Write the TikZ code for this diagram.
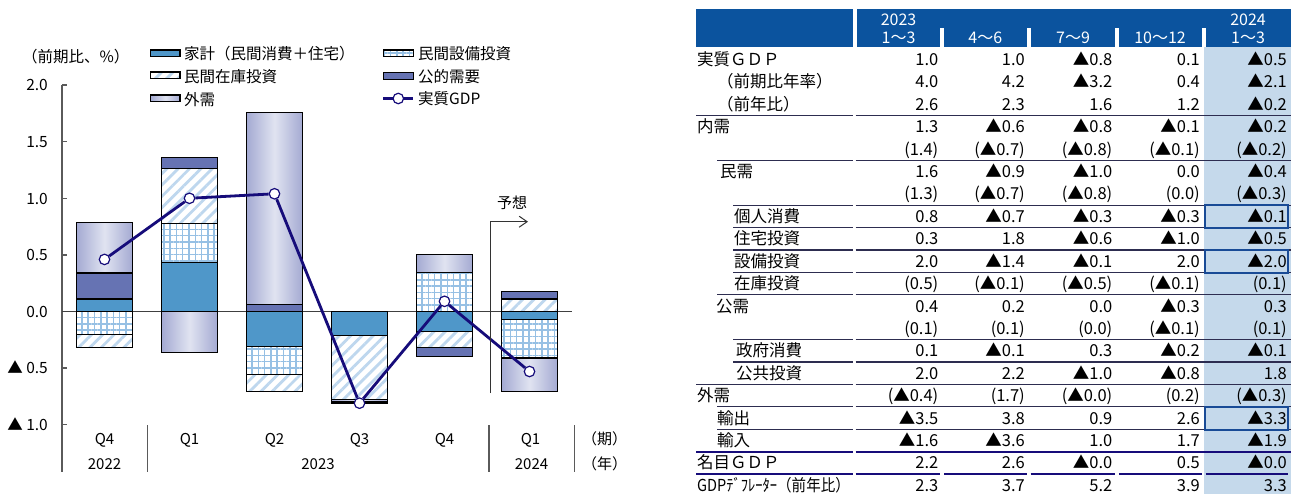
\documentclass[tikz,border=0pt]{standalone}
\usepackage{fontspec}
\setmainfont{Noto Sans CJK JP}
\usepackage{graphicx}
\usetikzlibrary{patterns.meta,arrows.meta}

\definecolor{hhblue}{RGB}{79,151,201}
\definecolor{pubblue}{RGB}{102,115,179}
\definecolor{gridblue}{RGB}{150,192,228}
\definecolor{hatchblue}{RGB}{190,215,238}
\definecolor{extedge}{RGB}{164,170,210}
\definecolor{extmid}{RGB}{224,227,241}
\definecolor{gdpnavy}{RGB}{22,12,122}
\definecolor{headblue}{RGB}{11,83,158}
\definecolor{coltint}{RGB}{197,217,235}
\definecolor{boxblue}{RGB}{25,75,150}
\definecolor{rulecol}{RGB}{45,45,80}
\definecolor{axisgray}{RGB}{90,90,90}

\tikzset{
  seg/.style={draw=black, line width=1.2pt},
  hh/.style={seg, fill=hhblue},
  pub/.style={seg, fill=pubblue},
  capex/.style={seg, pattern={Hatch[angle=0,distance=6.3pt,line width=1.5pt]}, pattern color=gridblue},
  stock/.style={seg, pattern={Lines[angle=45,distance=8pt,line width=2.8pt]}, pattern color=hatchblue},
  ext/.style={seg, left color=extedge, right color=extedge, middle color=extmid},
  gdp/.style={draw=gdpnavy, line width=2.8pt},
  gdpdot/.style={circle, draw=gdpnavy, fill=white, line width=1.2pt, inner sep=0pt, minimum size=10.5pt},
  axisline/.style={draw=axisgray, line width=1.3pt},
  zeroline/.style={draw=black!75, line width=1pt},
  fcline/.style={draw=black!80, line width=1pt},
  ylab/.style={anchor=east, inner sep=0pt, text height=11.7pt, text depth=0pt, font=\fontsize{15.5}{18}\selectfont},
  catlab/.style={inner sep=0pt, text height=11.7pt, text depth=0pt, font=\fontsize{15}{18}\selectfont},
  legtxt/.style={anchor=west, inner sep=0pt, font=\fontsize{15.5}{18}\selectfont},
  lbl/.style={anchor=west, inner sep=0pt, text height=12pt, text depth=0pt, font=\fontsize{16.5}{19}\selectfont},
  val/.style={anchor=east, inner sep=0pt, text height=12pt, text depth=0pt, font=\fontsize{16.5}{19}\selectfont},
  head/.style={text=white, inner sep=0pt, text height=11.5pt, text depth=0pt, font=\fontsize{16}{18}\selectfont},
  tabrule/.style={draw=rulecol, line width=1.1pt},
  navyline/.style={draw=gdpnavy, line width=2pt},
  hilite/.style={draw=boxblue, line width=2pt}
}

\begin{document}
\begin{tikzpicture}[x=1pt,y=-1pt]

\useasboundingbox[fill=white] (0,0) rectangle (1295,494); % page


%%%%%%%%%% left chart %%%%%%%%%%

\node[legtxt] (unit) at(22,56.7){（前期比、\%）}; % unit of y axis

%legend, left column
\draw[hh] (150.7,50) rectangle (180,56.7);
\node[legtxt] (lhh) at(184,54){家計（民間消費＋住宅）};
\draw[stock] (150.7,72) rectangle (180,78.7);
\node[legtxt] (lstock) at(184,76.7){民間在庫投資};
\draw[ext] (150.7,95) rectangle (180,101.7);
\node[legtxt] (lext) at(184,99.3){外需};

%legend, right column
\draw[capex] (383.3,50) rectangle (413.3,56.7);
\node[legtxt] (lcapex) at(418,53.5){民間設備投資};
\draw[pub] (383.3,72.7) rectangle (413.3,79.3);
\node[legtxt] (lpub) at(418,76.7){公的需要};
\coordinate (lg0) at(383.3,98.5);
\coordinate (lg1) at(413.3,98.5);
\draw[gdp] (lg0)--(lg1); % legend line
\node[gdpdot] (lgdot) at(398.3,98.5){};
\node[legtxt] (lgdp) at(418,99){実質GDP};

%y axis and ticks
\draw[axisline] (62,85.1)--(62,472); % axis, runs down into the category box
\draw[axisline] (62,85.1)--(67,85.1);
\draw[axisline] (62,141.7)--(67,141.7);
\draw[axisline] (62,198.3)--(67,198.3);
\draw[axisline] (62,254.9)--(67,254.9);
\draw[axisline] (62,311.5)--(67,311.5);
\draw[axisline] (62,368.1)--(67,368.1);
\draw[axisline] (62,424.7)--(67,424.7);

\node[ylab] (y1) at(48,85.1){2.0};
\node[ylab] (y2) at(48,141.7){1.5};
\node[ylab] (y3) at(48,198.3){1.0};
\node[ylab] (y4) at(48,254.9){0.5};
\node[ylab] (y5) at(48,311.5){0.0};
\node[ylab] (y6) at(48,368.1){▲ 0.5};
\node[ylab] (y7) at(48,424.7){▲ 1.0};

%bars, in data units (0 at y=311.5)
\begin{scope}[shift={(0,311.5)},y=113.2pt]

\draw[zeroline] (62,0)--(572,0); % zero line

%Q4 2022
\draw[hh] (76.5,0) rectangle (132.5,0.11);
\draw[pub] (76.5,0.11) rectangle (132.5,0.34);
\draw[ext] (76.5,0.34) rectangle (132.5,0.785);
\draw[capex] (76.5,0) rectangle (132.5,-0.205);
\draw[stock] (76.5,-0.205) rectangle (132.5,-0.32);

%Q1 2023
\draw[hh] (161.5,0) rectangle (217.5,0.43);
\draw[capex] (161.5,0.43) rectangle (217.5,0.78);
\draw[stock] (161.5,0.78) rectangle (217.5,1.26);
\draw[pub] (161.5,1.26) rectangle (217.5,1.36);
\draw[ext] (161.5,0) rectangle (217.5,-0.36);

%Q2 2023
\draw[pub] (246.5,0) rectangle (302.5,0.06);
\draw[ext] (246.5,0.06) rectangle (302.5,1.76);
\draw[hh] (246.5,0) rectangle (302.5,-0.31);
\draw[capex] (246.5,-0.31) rectangle (302.5,-0.56);
\draw[stock] (246.5,-0.56) rectangle (302.5,-0.71);

%Q3 2023
\draw[hh] (331.5,0) rectangle (387.5,-0.21);
\draw[stock] (331.5,-0.21) rectangle (387.5,-0.775);
\draw[ext] (331.5,-0.775) rectangle (387.5,-0.80);
\draw[pub] (331.5,-0.80) rectangle (387.5,-0.815);

%Q4 2023
\draw[capex] (416.5,0) rectangle (472.5,0.345);
\draw[ext] (416.5,0.345) rectangle (472.5,0.50);
\draw[hh] (416.5,0) rectangle (472.5,-0.18);
\draw[stock] (416.5,-0.18) rectangle (472.5,-0.32);
\draw[pub] (416.5,-0.32) rectangle (472.5,-0.40);

%Q1 2024 (forecast)
\draw[stock] (501.5,0) rectangle (557.5,0.11);
\draw[pub] (501.5,0.11) rectangle (557.5,0.18);
\draw[hh] (501.5,0) rectangle (557.5,-0.07);
\draw[capex] (501.5,-0.07) rectangle (557.5,-0.41);
\draw[ext] (501.5,-0.41) rectangle (557.5,-0.71);

%real GDP line
\node[gdpdot] (g1) at(104.5,0.46){};
\node[gdpdot] (g2) at(189.5,1.0){};
\node[gdpdot] (g3) at(274.5,1.04){};
\node[gdpdot] (g4) at(359.5,-0.81){};
\node[gdpdot] (g5) at(444.5,0.09){};
\node[gdpdot] (g6) at(529.5,-0.53){};
\draw[gdp] (g1)--(g2)--(g3)--(g4)--(g5)--(g6);

\end{scope}

%forecast marker
\coordinate (fclow) at(490,393);
\coordinate (fctop) at(490,221.7);
\coordinate (fcend) at(528,221.7);
\draw[fcline, -{Straight Barb[length=8pt,width=11pt]}] (fclow)--(fctop)--(fcend);
\node[catlab] (fc) at(512,203){予想};

%category box separators
\draw[axisline] (147.5,425)--(147.5,472);
\draw[axisline] (489,425)--(489,472);
\draw[axisline] (574.5,425)--(574.5,472);

%quarters and years
\node[catlab] (q1) at(104.5,439){Q4};
\node[catlab] (q2) at(189.5,439){Q1};
\node[catlab] (q3) at(274.5,439){Q2};
\node[catlab] (q4) at(359.5,439){Q3};
\node[catlab] (q5) at(444.5,439){Q4};
\node[catlab] (q6) at(530.5,439){Q1};
\node[catlab] (yr1) at(104.5,464){2022};
\node[catlab] (yr2) at(318,464){2023};
\node[catlab] (yr3) at(531.5,464){2024};
\node[catlab] (per) at(604.5,439){（期）};
\node[catlab] (yr) at(604.5,464){（年）};


%%%%%%%%%% right table %%%%%%%%%%

%shaded forecast column
\fill[coltint] (1204,47) rectangle (1291,494);

%header band
\fill[headblue] (696,9) rectangle (852.7,46.7); % label column
\fill[headblue] (856.7,9) rectangle (1291,46.7); % data columns
\fill[white] (940,28.3) rectangle (944,46.7); % gaps between quarters
\fill[white] (1026.7,28.3) rectangle (1030.7,46.7);
\fill[white] (1115,28.3) rectangle (1119,46.7);
\fill[white] (1201.7,28.3) rectangle (1205.7,46.7);

\node[head] (h0) at(898.5,19.5){2023};
\node[head] (h1) at(898.5,38){1〜3};
\node[head] (h2) at(985.3,38){4〜6};
\node[head] (h3) at(1073,38){7〜9};
\node[head] (h4) at(1160,38){10〜12};
\node[head] (h5a) at(1248,19.5){2024};
\node[head] (h5) at(1248,38){1〜3};

%row labels
\node[lbl] (l1) at(697,59.6){実質ＧＤＰ};
\node[lbl] (l2) at(717,82){（前期比年率）};
\node[lbl] (l3) at(717,104.4){（前年比）};
\node[lbl] (l4) at(697,126.8){内需};
\node[lbl] (l6) at(720,171.6){民需};
\node[lbl] (l8) at(734,216.4){個人消費};
\node[lbl] (l9) at(734,238.8){住宅投資};
\node[lbl] (l10) at(734,261.2){設備投資};
\node[lbl] (l11) at(734,283.6){在庫投資};
\node[lbl] (l12) at(716,306){公需};
\node[lbl] (l14) at(736,350.8){政府消費};
\node[lbl] (l15) at(736,373.2){公共投資};
\node[lbl] (l16) at(697,395.6){外需};
\node[lbl] (l17) at(717,418){輸出};
\node[lbl] (l18) at(717,440.4){輸入};
\node[lbl] (l19) at(697,462.8){名目ＧＤＰ};
\node[lbl] (l20) at(697,485.2){\scalebox{0.88}[1]{GDPﾃﾞﾌﾚｰﾀｰ（前年比）}};

%values, 2023 1-3
\node[val] (r1c1) at(938.5,59.6){1.0};
\node[val] (r2c1) at(938.5,82){4.0};
\node[val] (r3c1) at(938.5,104.4){2.6};
\node[val] (r4c1) at(938.5,126.8){1.3};
\node[val] (r5c1) at(938.5,149.2){(1.4)};
\node[val] (r6c1) at(938.5,171.6){1.6};
\node[val] (r7c1) at(938.5,194){(1.3)};
\node[val] (r8c1) at(938.5,216.4){0.8};
\node[val] (r9c1) at(938.5,238.8){0.3};
\node[val] (r10c1) at(938.5,261.2){2.0};
\node[val] (r11c1) at(938.5,283.6){(0.5)};
\node[val] (r12c1) at(938.5,306){0.4};
\node[val] (r13c1) at(938.5,328.4){(0.1)};
\node[val] (r14c1) at(938.5,350.8){0.1};
\node[val] (r15c1) at(938.5,373.2){2.0};
\node[val] (r16c1) at(938.5,395.6){(▲0.4)};
\node[val] (r17c1) at(938.5,418){▲3.5};
\node[val] (r18c1) at(938.5,440.4){▲1.6};
\node[val] (r19c1) at(938.5,462.8){2.2};
\node[val] (r20c1) at(938.5,485.2){2.3};

%values, 4-6
\node[val] (r1c2) at(1025,59.6){1.0};
\node[val] (r2c2) at(1025,82){4.2};
\node[val] (r3c2) at(1025,104.4){2.3};
\node[val] (r4c2) at(1025,126.8){▲0.6};
\node[val] (r5c2) at(1025,149.2){(▲0.7)};
\node[val] (r6c2) at(1025,171.6){▲0.9};
\node[val] (r7c2) at(1025,194){(▲0.7)};
\node[val] (r8c2) at(1025,216.4){▲0.7};
\node[val] (r9c2) at(1025,238.8){1.8};
\node[val] (r10c2) at(1025,261.2){▲1.4};
\node[val] (r11c2) at(1025,283.6){(▲0.1)};
\node[val] (r12c2) at(1025,306){0.2};
\node[val] (r13c2) at(1025,328.4){(0.1)};
\node[val] (r14c2) at(1025,350.8){▲0.1};
\node[val] (r15c2) at(1025,373.2){2.2};
\node[val] (r16c2) at(1025,395.6){(1.7)};
\node[val] (r17c2) at(1025,418){3.8};
\node[val] (r18c2) at(1025,440.4){▲3.6};
\node[val] (r19c2) at(1025,462.8){2.6};
\node[val] (r20c2) at(1025,485.2){3.7};

%values, 7-9
\node[val] (r1c3) at(1112.5,59.6){▲0.8};
\node[val] (r2c3) at(1112.5,82){▲3.2};
\node[val] (r3c3) at(1112.5,104.4){1.6};
\node[val] (r4c3) at(1112.5,126.8){▲0.8};
\node[val] (r5c3) at(1112.5,149.2){(▲0.8)};
\node[val] (r6c3) at(1112.5,171.6){▲1.0};
\node[val] (r7c3) at(1112.5,194){(▲0.8)};
\node[val] (r8c3) at(1112.5,216.4){▲0.3};
\node[val] (r9c3) at(1112.5,238.8){▲0.6};
\node[val] (r10c3) at(1112.5,261.2){▲0.1};
\node[val] (r11c3) at(1112.5,283.6){(▲0.5)};
\node[val] (r12c3) at(1112.5,306){0.0};
\node[val] (r13c3) at(1112.5,328.4){(0.0)};
\node[val] (r14c3) at(1112.5,350.8){0.3};
\node[val] (r15c3) at(1112.5,373.2){▲1.0};
\node[val] (r16c3) at(1112.5,395.6){(▲0.0)};
\node[val] (r17c3) at(1112.5,418){0.9};
\node[val] (r18c3) at(1112.5,440.4){1.0};
\node[val] (r19c3) at(1112.5,462.8){▲0.0};
\node[val] (r20c3) at(1112.5,485.2){5.2};

%values, 10-12
\node[val] (r1c4) at(1200,59.6){0.1};
\node[val] (r2c4) at(1200,82){0.4};
\node[val] (r3c4) at(1200,104.4){1.2};
\node[val] (r4c4) at(1200,126.8){▲0.1};
\node[val] (r5c4) at(1200,149.2){(▲0.1)};
\node[val] (r6c4) at(1200,171.6){0.0};
\node[val] (r7c4) at(1200,194){(0.0)};
\node[val] (r8c4) at(1200,216.4){▲0.3};
\node[val] (r9c4) at(1200,238.8){▲1.0};
\node[val] (r10c4) at(1200,261.2){2.0};
\node[val] (r11c4) at(1200,283.6){(▲0.1)};
\node[val] (r12c4) at(1200,306){▲0.3};
\node[val] (r13c4) at(1200,328.4){(▲0.1)};
\node[val] (r14c4) at(1200,350.8){▲0.2};
\node[val] (r15c4) at(1200,373.2){▲0.8};
\node[val] (r16c4) at(1200,395.6){(0.2)};
\node[val] (r17c4) at(1200,418){2.6};
\node[val] (r18c4) at(1200,440.4){1.7};
\node[val] (r19c4) at(1200,462.8){0.5};
\node[val] (r20c4) at(1200,485.2){3.9};

%values, 2024 1-3
\node[val] (r1c5) at(1287,59.6){▲0.5};
\node[val] (r2c5) at(1287,82){▲2.1};
\node[val] (r3c5) at(1287,104.4){▲0.2};
\node[val] (r4c5) at(1287,126.8){▲0.2};
\node[val] (r5c5) at(1287,149.2){(▲0.2)};
\node[val] (r6c5) at(1287,171.6){▲0.4};
\node[val] (r7c5) at(1287,194){(▲0.3)};
\node[val] (r8c5) at(1287,216.4){▲0.1};
\node[val] (r9c5) at(1287,238.8){▲0.5};
\node[val] (r10c5) at(1287,261.2){▲2.0};
\node[val] (r11c5) at(1287,283.6){(0.1)};
\node[val] (r12c5) at(1287,306){0.3};
\node[val] (r13c5) at(1287,328.4){(0.1)};
\node[val] (r14c5) at(1287,350.8){▲0.1};
\node[val] (r15c5) at(1287,373.2){1.8};
\node[val] (r16c5) at(1287,395.6){(▲0.3)};
\node[val] (r17c5) at(1287,418){▲3.3};
\node[val] (r18c5) at(1287,440.4){▲1.9};
\node[val] (r19c5) at(1287,462.8){▲0.0};
\node[val] (r20c5) at(1287,485.2){3.3};

%horizontal rules (label part, then data part)
\draw[tabrule] (696,115.6)--(852.7,115.6); \draw[tabrule] (855.7,115.6)--(1291,115.6);
\draw[tabrule] (717,160.4)--(852.7,160.4); \draw[tabrule] (855.7,160.4)--(1291,160.4);
\draw[tabrule] (733,205.2)--(852.7,205.2); \draw[tabrule] (855.7,205.2)--(1291,205.2);
\draw[tabrule] (733,227.6)--(852.7,227.6); \draw[tabrule] (855.7,227.6)--(1291,227.6);
\draw[tabrule] (733,250)--(852.7,250); \draw[tabrule] (855.7,250)--(1291,250);
\draw[tabrule] (733,272.4)--(852.7,272.4); \draw[tabrule] (855.7,272.4)--(1291,272.4);
\draw[tabrule] (717,294.8)--(852.7,294.8); \draw[tabrule] (855.7,294.8)--(1291,294.8);
\draw[tabrule] (733,339.6)--(852.7,339.6); \draw[tabrule] (855.7,339.6)--(1291,339.6);
\draw[tabrule] (733,362)--(852.7,362); \draw[tabrule] (855.7,362)--(1291,362);
\draw[tabrule] (696,384.4)--(852.7,384.4); \draw[tabrule] (855.7,384.4)--(1291,384.4);
\draw[tabrule] (717,406.8)--(852.7,406.8); \draw[tabrule] (855.7,406.8)--(1291,406.8);
\draw[tabrule] (717,429.2)--(852.7,429.2); \draw[tabrule] (855.7,429.2)--(1291,429.2);
\draw[navyline] (696,451.6)--(852.7,451.6); \draw[navyline] (855.7,451.6)--(1291,451.6);
\draw[navyline] (696,474)--(852.7,474); % last rule, broken per column
\draw[navyline] (855.7,474)--(940,474);
\draw[navyline] (944,474)--(1026.7,474);
\draw[navyline] (1030.7,474)--(1115,474);
\draw[navyline] (1119,474)--(1201.7,474);
\draw[navyline] (1205.7,474)--(1288.3,474);

%boxed cells in forecast column
\draw[hilite] (1204.5,205) rectangle (1288,227.8); % private consumption
\draw[hilite] (1204.5,249.6) rectangle (1288,272.8); % capex
\draw[hilite] (1204.5,406.8) rectangle (1288,429.6); % exports

\end{tikzpicture}
\end{document}
